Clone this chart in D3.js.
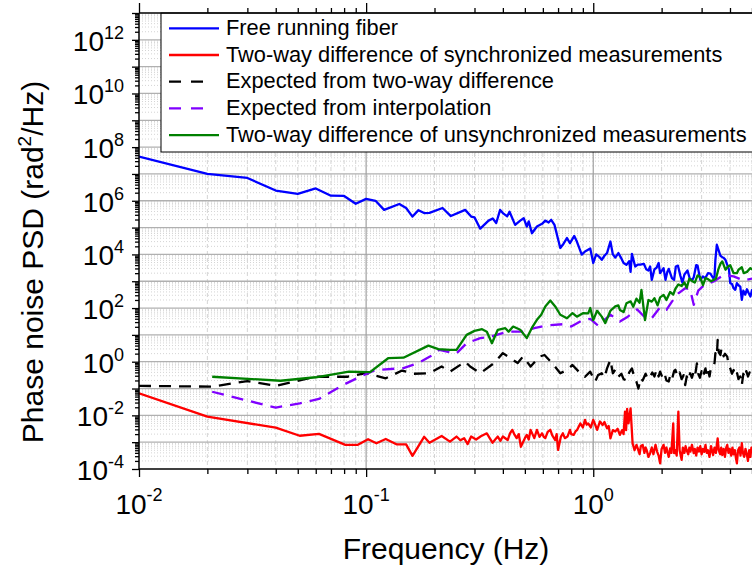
<!DOCTYPE html>
<html><head><meta charset="utf-8">
<script src="https://cdn.jsdelivr.net/npm/d3@7"></script>
<style>
body{margin:0;background:#fff}
svg{display:block}
text{font-family:"Liberation Sans",Arial,Helvetica,sans-serif;fill:#000}
</style>
</head><body>
<svg id="chart" width="752" height="572"></svg>
<script>
// ---------- data (frequency in Hz, log10 of PSD in rad^2/Hz) ----------
const xTickExponents = [-2, -1, 0];
const yTickExponents = [-4, -2, 0, 2, 4, 6, 8, 10, 12];
const seriesNames = [
  "Free running fiber",
  "Two-way difference of synchronized measurements",
  "Expected from two-way difference",
  "Expected from interpolation",
  "Two-way difference of unsynchronized measurements"
];
const seriesColors = ["#0000ff", "#ff0000", "#000000", "#8000ff", "#008000"];

const freeRunning = [
  [0.01,7.65],[0.02,7.00],[0.03,6.85],[0.04,6.38],[0.05,6.26],[0.06,6.46],[0.07,6.19],[0.08,6.18],
  [0.09,5.89],[0.10,6.07],[0.11,6.00],[0.12,5.66],[0.14,5.88],[0.15,5.73],[0.16,5.41],[0.17,5.65],
  [0.18,5.54],[0.19,5.55],[0.217,5.73],[0.236,5.43],[0.273,5.66],[0.29,5.41],[0.30,5.38],[0.318,4.96],
  [0.346,5.26],[0.361,5.34],[0.374,5.17],[0.389,5.66],[0.40,5.54],[0.418,5.42],[0.428,5.59],[0.453,5.10],
  [0.477,5.26],[0.494,5.35],[0.51,5.04],[0.52,5.23],[0.537,4.79],[0.565,5.04],[0.595,5.14],[0.615,5.26],
  [0.636,5.19],[0.653,5.29],[0.675,5.10],[0.716,4.24],[0.74,4.40],[0.766,4.61],[0.79,4.42],[0.825,4.69],
  [0.847,4.48],[0.89,3.99],[0.92,4.11],[0.97,4.22],[1.00,3.68],[1.03,4.00],[1.06,3.92],[1.09,3.80],
  [1.12,3.95],[1.15,4.05],[1.19,4.48],[1.22,4.00],[1.25,3.88],[1.29,4.05],[1.32,3.90],[1.36,3.68],
  [1.40,3.61],[1.44,3.75],[1.46,3.35],[1.48,4.02],[1.53,3.55],[1.57,3.62],[1.61,3.62],[1.67,3.65],
  [1.71,3.45],[1.75,3.40],[1.78,3.55],[1.81,3.05],[1.86,3.45],[1.90,3.50],[1.94,3.68],[1.97,3.30],
  [2.04,3.49],[2.08,3.05],[2.12,3.35],[2.15,3.46],[2.22,3.12],[2.27,3.05],[2.31,3.55],[2.36,3.58],
  [2.42,3.20],[2.47,2.95],[2.52,3.25],[2.60,3.40],[2.66,3.10],[2.73,3.05],[2.77,3.15],[2.84,3.60],
  [2.88,3.58],[2.96,3.05],[3.04,3.18],[3.11,3.11],[3.20,3.30],[3.28,3.28],[3.37,3.12],[3.42,3.18],
  [3.45,3.80],[3.50,4.36],[3.55,4.20],[3.63,3.95],[3.70,3.90],[3.76,3.86],[3.82,3.80],[3.89,3.61],
  [3.96,3.43],[4.01,2.93],[4.08,2.90],[4.15,2.74],[4.22,2.68],[4.29,2.93],[4.36,2.85],[4.44,2.80],
  [4.51,2.31],[4.58,2.65],[4.67,2.50],[4.75,2.70],[4.84,2.55],[4.92,2.43],[5.01,2.70]
];

const syncDifference = [
  [0.01,-1.18],[0.02,-2.05],[0.04,-2.46],[0.051,-2.76],[0.062,-2.69],[0.081,-3.10],[0.092,-3.10],
  [0.102,-2.89],[0.111,-3.04],[0.122,-2.88],[0.136,-3.08],[0.15,-3.08],[0.16,-3.51],[0.18,-2.80],
  [0.19,-3.02],[0.215,-2.77],[0.234,-2.98],[0.25,-2.79],[0.26,-2.93],[0.27,-2.85],[0.28,-3.07],
  [0.29,-2.79],[0.305,-2.90],[0.32,-2.78],[0.34,-2.67],[0.35,-2.85],[0.36,-3.02],[0.38,-2.79],
  [0.39,-2.95],[0.40,-2.79],[0.42,-2.92],[0.43,-2.67],[0.44,-2.54],[0.45,-2.72],[0.46,-2.85],
  [0.47,-2.70],[0.48,-3.17],[0.50,-2.85],[0.51,-2.73],[0.52,-2.90],[0.53,-2.54],[0.54,-2.70],
  [0.55,-2.85],[0.565,-2.54],[0.58,-2.80],[0.595,-2.67],[0.605,-2.80],[0.615,-2.85],[0.63,-2.62],
  [0.647,-2.54],[0.66,-2.75],[0.68,-2.92],[0.69,-2.70],[0.70,-3.29],[0.72,-2.80],[0.735,-2.67],
  [0.75,-2.85],[0.77,-2.79],[0.79,-2.54],[0.80,-2.70],[0.82,-2.73],[0.835,-2.60],[0.85,-2.54],
  [0.877,-2.30],[0.90,-2.45],[0.92,-2.17],[0.935,-2.35],[0.95,-2.30],[0.975,-2.45],[1.00,-2.17],
  [1.02,-2.35],[1.04,-2.54],[1.07,-2.23],[1.10,-2.36],[1.12,-2.25],[1.15,-2.48],[1.17,-2.40],
  [1.19,-2.86],[1.22,-2.55],[1.25,-2.60],[1.28,-2.50],[1.31,-2.73],[1.34,-2.55],[1.36,-2.70],
  [1.38,-1.86],[1.395,-2.55],[1.41,-1.76],[1.43,-2.30],[1.46,-1.74],[1.49,-3.04],[1.52,-3.30],
  [1.55,-3.10],[1.57,-3.23],[1.60,-3.45],[1.62,-3.15],[1.65,-3.10],[1.68,-3.40],[1.70,-3.20],
  [1.72,-3.30],[1.75,-3.55],[1.78,-3.41],[1.81,-3.20],[1.84,-3.45],[1.88,-3.10],[1.91,-3.35],
  [1.94,-3.50],[1.97,-3.79],[2.00,-3.25],[2.04,-3.10],[2.07,-3.40],[2.10,-3.20],[2.12,-3.35],
  [2.15,-3.55],[2.18,-3.23],[2.21,-3.40],[2.25,-2.30],[2.27,-3.41],[2.30,-3.30],[2.33,-3.50],
  [2.37,-1.86],[2.40,-3.30],[2.45,-3.66],[2.48,-3.20],[2.52,-3.40],[2.55,-3.15],[2.58,-3.30],
  [2.62,-3.45],[2.65,-3.20],[2.68,-3.35],[2.72,-3.10],[2.77,-3.41],[2.80,-3.25],[2.84,-3.50],
  [2.88,-3.20],[2.92,-3.35],[2.96,-3.15],[3.00,-3.45],[3.04,-3.25],[3.08,-3.36],[3.12,-3.10],
  [3.16,-3.40],[3.20,-3.30],[3.25,-3.55],[3.30,-3.15],[3.34,-3.35],[3.37,-3.48],[3.42,-3.20],
  [3.47,-3.40],[3.53,-2.86],[3.57,-3.30],[3.62,-3.45],[3.66,-3.20],[3.70,-3.48],[3.75,-3.25],
  [3.80,-3.55],[3.85,-3.20],[3.89,-3.10],[3.94,-3.40],[3.99,-3.25],[4.05,-3.50],[4.10,-3.20],
  [4.15,-3.45],[4.20,-3.30],[4.25,-3.60],[4.29,-3.79],[4.34,-3.30],[4.40,-3.20],[4.45,-3.50],
  [4.51,-3.04],[4.56,-3.40],[4.62,-3.55],[4.68,-3.25],[4.75,-3.48],[4.80,-3.70],[4.86,-3.30],
  [4.92,-3.55],[4.97,-3.20],[5.01,-3.40]
];

const expectedTwoWay = [
  [0.01,-0.90],[0.021,-0.93],[0.03,-0.72],[0.04,-0.90],[0.06,-0.56],[0.083,-0.56],[0.10,-0.43],
  [0.122,-0.62],[0.144,-0.33],[0.162,-0.45],[0.19,-0.43],[0.215,-0.18],[0.234,-0.37],[0.273,0.00],
  [0.287,-0.18],[0.318,-0.43],[0.365,-0.06],[0.40,0.32],[0.465,-0.05],[0.49,0.19],[0.53,-0.18],
  [0.58,0.19],[0.61,0.25],[0.66,-0.06],[0.716,-0.43],[0.77,-0.30],[0.81,-0.12],[0.877,-0.43],
  [0.92,-0.56],[0.97,-0.37],[1.00,-0.60],[1.02,-0.74],[1.05,-0.50],[1.09,-0.43],[1.12,-0.60],
  [1.15,-0.25],[1.19,0.07],[1.22,-0.43],[1.25,-0.30],[1.29,-0.56],[1.33,-0.45],[1.36,-0.65],
  [1.40,-0.70],[1.44,-0.40],[1.48,-0.25],[1.52,-0.60],[1.55,-0.75],[1.58,-1.00],[1.62,-0.60],
  [1.65,-0.70],[1.70,-0.45],[1.74,-0.65],[1.78,-0.56],[1.82,-0.40],[1.86,-0.55],[1.90,-0.30],
  [1.94,-0.55],[1.97,-0.37],[2.02,-0.60],[2.06,-0.45],[2.10,-0.70],[2.15,-0.74],[2.19,-0.45],
  [2.23,-0.60],[2.27,-0.35],[2.30,-0.30],[2.35,-0.55],[2.40,-0.40],[2.45,-0.65],[2.50,-0.50],
  [2.54,-0.87],[2.58,-0.55],[2.62,-0.70],[2.67,-0.43],[2.72,-0.60],[2.77,-0.35],[2.81,-0.50],
  [2.86,-0.06],[2.90,-0.45],[2.95,-0.60],[3.00,-0.35],[3.04,-0.56],[3.08,-0.40],[3.12,-0.25],
  [3.16,-0.50],[3.20,-0.30],[3.25,-0.55],[3.30,-0.20],[3.37,-0.18],[3.42,-0.05],[3.45,0.32],
  [3.50,0.20],[3.53,0.81],[3.57,0.35],[3.63,0.25],[3.67,0.50],[3.70,0.44],[3.75,0.20],[3.80,0.30],
  [3.89,0.19],[3.95,-0.15],[4.01,-0.25],[4.08,-0.45],[4.15,-0.31],[4.22,-0.55],[4.30,-0.43],
  [4.36,-0.65],[4.44,-0.55],[4.51,-0.87],[4.58,-0.45],[4.65,-0.60],[4.72,-0.35],[4.80,-0.55],
  [4.88,-0.40],[4.95,-0.50],[5.01,-0.30]
];

const expectedInterp = [
  [0.021,-1.12],[0.03,-1.45],[0.04,-1.71],[0.051,-1.55],[0.062,-1.39],[0.079,-0.87],[0.094,-0.56],
  [0.11,-0.31],[0.146,-0.24],[0.17,-0.05],[0.191,0.19],[0.21,0.44],[0.234,0.35],[0.25,0.31],
  [0.277,0.69],[0.318,0.88],[0.36,0.95],[0.42,1.12],[0.49,1.12],[0.55,1.25],[0.62,1.35],
  [0.74,1.40],[0.80,1.31],[0.90,1.55],[0.97,1.60],[1.05,1.35],[1.19,1.75],[1.31,1.50],
  [1.42,1.68],[1.56,1.95],[1.69,1.65],[1.81,1.62],[1.97,2.03],[2.10,1.93],[2.22,2.24],
  [2.37,2.55],[2.54,2.74],[2.67,2.70],[2.77,2.12],[2.90,2.65],[3.07,2.85],[3.39,2.99],
  [3.76,3.24],[4.15,3.18],[4.58,3.03],[5.01,3.10]
];

const unsyncDifference = [
  [0.021,-0.56],[0.042,-0.71],[0.060,-0.58],[0.084,-0.37],[0.104,-0.39],[0.125,0.13],[0.146,0.15],
  [0.188,0.60],[0.208,0.47],[0.234,0.44],[0.25,0.44],[0.277,1.00],[0.30,1.15],[0.324,1.21],
  [0.34,1.12],[0.358,0.69],[0.38,1.19],[0.41,1.25],[0.424,1.12],[0.444,1.31],[0.477,1.19],
  [0.51,0.88],[0.54,1.30],[0.565,1.56],[0.59,1.75],[0.615,2.06],[0.647,2.28],[0.68,2.06],
  [0.716,1.75],[0.766,1.62],[0.81,1.81],[0.847,1.68],[0.90,1.81],[0.95,1.80],[0.97,2.00],
  [1.00,1.55],[1.04,1.90],[1.09,1.68],[1.13,1.44],[1.19,1.90],[1.25,2.06],[1.29,2.10],
  [1.31,1.93],[1.36,1.85],[1.40,2.18],[1.46,2.25],[1.50,2.05],[1.55,2.35],[1.60,2.20],
  [1.63,2.68],[1.69,1.55],[1.75,2.30],[1.81,2.24],[1.86,2.37],[1.92,2.10],[1.97,2.40],
  [2.04,2.49],[2.10,2.30],[2.18,2.60],[2.25,2.50],[2.30,2.72],[2.37,2.88],[2.45,2.82],
  [2.52,2.95],[2.58,2.76],[2.65,3.10],[2.73,3.00],[2.80,2.95],[2.88,3.22],[2.96,3.15],
  [3.04,2.85],[3.12,3.12],[3.20,3.08],[3.30,3.00],[3.39,3.05],[3.47,3.10],[3.55,3.43],
  [3.63,3.65],[3.70,3.74],[3.82,3.43],[3.92,3.55],[4.01,3.60],[4.15,3.30],[4.29,3.30],
  [4.36,3.43],[4.51,3.52],[4.60,3.30],[4.75,3.35],[4.92,3.49],[5.01,3.43]
];

const seriesData = [freeRunning, syncDifference, expectedTwoWay, expectedInterp, unsyncDifference];
const seriesDashed = [false, false, true, true, false];

// ---------- layout ----------
const plot = {left: 139, top: 13, right: 752, bottom: 469};
const svg = d3.select("#chart");
const x = d3.scaleLog().domain([0.01, 5.0]).range([plot.left, plot.right]);
const y = d3.scaleLog().domain([1e-4, 1e13]).range([plot.bottom, plot.top]);

const xMajor = xTickExponents.map(e => Math.pow(10, e));
const xMinor = [];
xMajor.forEach(d => { for (let k = 2; k <= 9; k++) { const v = d * k; if (v <= 5.0) xMinor.push(v); } });
const yMajor = d3.range(-4, 14).map(e => Math.pow(10, e));
const yMinor = [];
for (let e = -4; e < 13; e++) for (let k = 2; k <= 9; k++) yMinor.push(k * Math.pow(10, e));

// ---------- grid ----------
const grid = svg.append("g");
grid.selectAll(".ymin").data(yMinor).join("line")
  .attr("x1", plot.left).attr("x2", plot.right)
  .attr("y1", d => y(d)).attr("y2", d => y(d))
  .attr("stroke", "#d4d4d4").attr("stroke-width", 1).attr("stroke-dasharray", "1,2");
grid.selectAll(".xmin").data(xMinor).join("line")
  .attr("x1", d => x(d)).attr("x2", d => x(d))
  .attr("y1", plot.top).attr("y2", plot.bottom)
  .attr("stroke", "#d4d4d4").attr("stroke-width", 1).attr("stroke-dasharray", "4,3");
grid.selectAll(".ymaj").data(yMajor.slice(1, -1)).join("line")
  .attr("x1", plot.left).attr("x2", plot.right)
  .attr("y1", d => y(d)).attr("y2", d => y(d))
  .attr("stroke", "#b0b0b0").attr("stroke-width", 1.3);
grid.selectAll(".xmaj").data(xMajor.slice(1)).join("line")
  .attr("x1", d => x(d)).attr("x2", d => x(d))
  .attr("y1", plot.top).attr("y2", plot.bottom)
  .attr("stroke", "#a0a0a0").attr("stroke-width", 1.2);

// ---------- series ----------
svg.append("clipPath").attr("id", "clip").append("rect")
  .attr("x", plot.left).attr("y", plot.top)
  .attr("width", plot.right - plot.left).attr("height", plot.bottom - plot.top);
const line = d3.line().x(d => x(d[0])).y(d => y(Math.pow(10, d[1])));
const lines = svg.append("g").attr("clip-path", "url(#clip)");
seriesData.forEach((s, i) => {
  lines.append("path").datum(s).attr("d", line)
    .attr("fill", "none").attr("stroke", seriesColors[i]).attr("stroke-width", 2.3)
    .attr("stroke-linejoin", "round")
    .attr("stroke-dasharray", seriesDashed[i] ? "12,8" : null);
});

// ---------- legend ----------
const lg = svg.append("g");
lg.append("rect").attr("x", 161).attr("y", plot.top).attr("width", 640).attr("height", 139)
  .attr("fill", "#fff").attr("stroke", "#000").attr("stroke-width", 1);
seriesNames.forEach((name, i) => {
  const by = 35 + i * 26.7;
  lg.append("line").attr("x1", 169).attr("x2", 219).attr("y1", by - 6.7).attr("y2", by - 6.7)
    .attr("stroke", seriesColors[i]).attr("stroke-width", 2.3)
    .attr("stroke-dasharray", seriesDashed[i] ? "12,10,12,100" : null);
  lg.append("text").attr("x", 226).attr("y", by).attr("font-size", 21.8).text(name);
});

// ---------- axes ----------
const ax = svg.append("g");
const axisStyle = g => { g.select(".domain").remove(); g.selectAll("line").attr("stroke", "#000").attr("stroke-width", 1.3); };
ax.append("g").attr("transform", `translate(${plot.left},0)`)
  .call(d3.axisLeft(y).tickValues(yMajor).tickSize(7).tickFormat("")).call(axisStyle);
ax.append("g").attr("transform", `translate(${plot.left},0)`)
  .call(d3.axisLeft(y).tickValues(yMinor).tickSize(4).tickFormat("")).call(axisStyle);
ax.append("g").attr("transform", `translate(0,${plot.bottom})`)
  .call(d3.axisBottom(x).tickValues(xMajor).tickSize(8).tickFormat("")).call(axisStyle);
ax.append("g").attr("transform", `translate(0,${plot.bottom})`)
  .call(d3.axisBottom(x).tickValues(xMinor).tickSize(5).tickFormat("")).call(axisStyle);
ax.append("g").attr("transform", `translate(0,${plot.top})`)
  .call(d3.axisTop(x).tickValues(xMajor).tickSize(10).tickFormat("")).call(axisStyle);
ax.append("g").attr("transform", `translate(0,${plot.top})`)
  .call(d3.axisTop(x).tickValues(xMinor).tickSize(5).tickFormat("")).call(axisStyle);
ax.append("line").attr("x1", plot.left).attr("x2", plot.left).attr("y1", plot.top).attr("y2", plot.bottom)
  .attr("stroke", "#000").attr("stroke-width", 1.5);
ax.append("line").attr("x1", plot.left).attr("x2", plot.right).attr("y1", plot.bottom).attr("y2", plot.bottom)
  .attr("stroke", "#000").attr("stroke-width", 1.5);
ax.append("line").attr("x1", plot.left).attr("x2", plot.right).attr("y1", plot.top).attr("y2", plot.top)
  .attr("stroke", "#000").attr("stroke-width", 1.5);

// tick labels
yTickExponents.forEach(e => {
  const t = svg.append("text").attr("x", 124).attr("y", y(Math.pow(10, e)) + 11)
    .attr("text-anchor", "end").attr("font-size", 28);
  t.append("tspan").text("10");
  t.append("tspan").attr("dy", -12).attr("font-size", 18).text(String(e));
});
xTickExponents.forEach(e => {
  const t = svg.append("text").attr("x", x(Math.pow(10, e))).attr("y", 514)
    .attr("text-anchor", "middle").attr("font-size", 28);
  t.append("tspan").text("10");
  t.append("tspan").attr("dy", -13).attr("font-size", 18).text(String(e));
});

// axis titles
svg.append("text").attr("x", 446).attr("y", 559).attr("text-anchor", "middle")
  .attr("font-size", 30).text("Frequency (Hz)");
const yt = svg.append("text").attr("transform", "translate(43,262) rotate(-90)")
  .attr("text-anchor", "middle").attr("font-size", 30);
yt.append("tspan").text("Phase noise PSD (rad");
yt.append("tspan").attr("dy", -12).attr("font-size", 19).text("2");
yt.append("tspan").attr("dy", 12).text("/Hz)");
</script>
</body></html>
